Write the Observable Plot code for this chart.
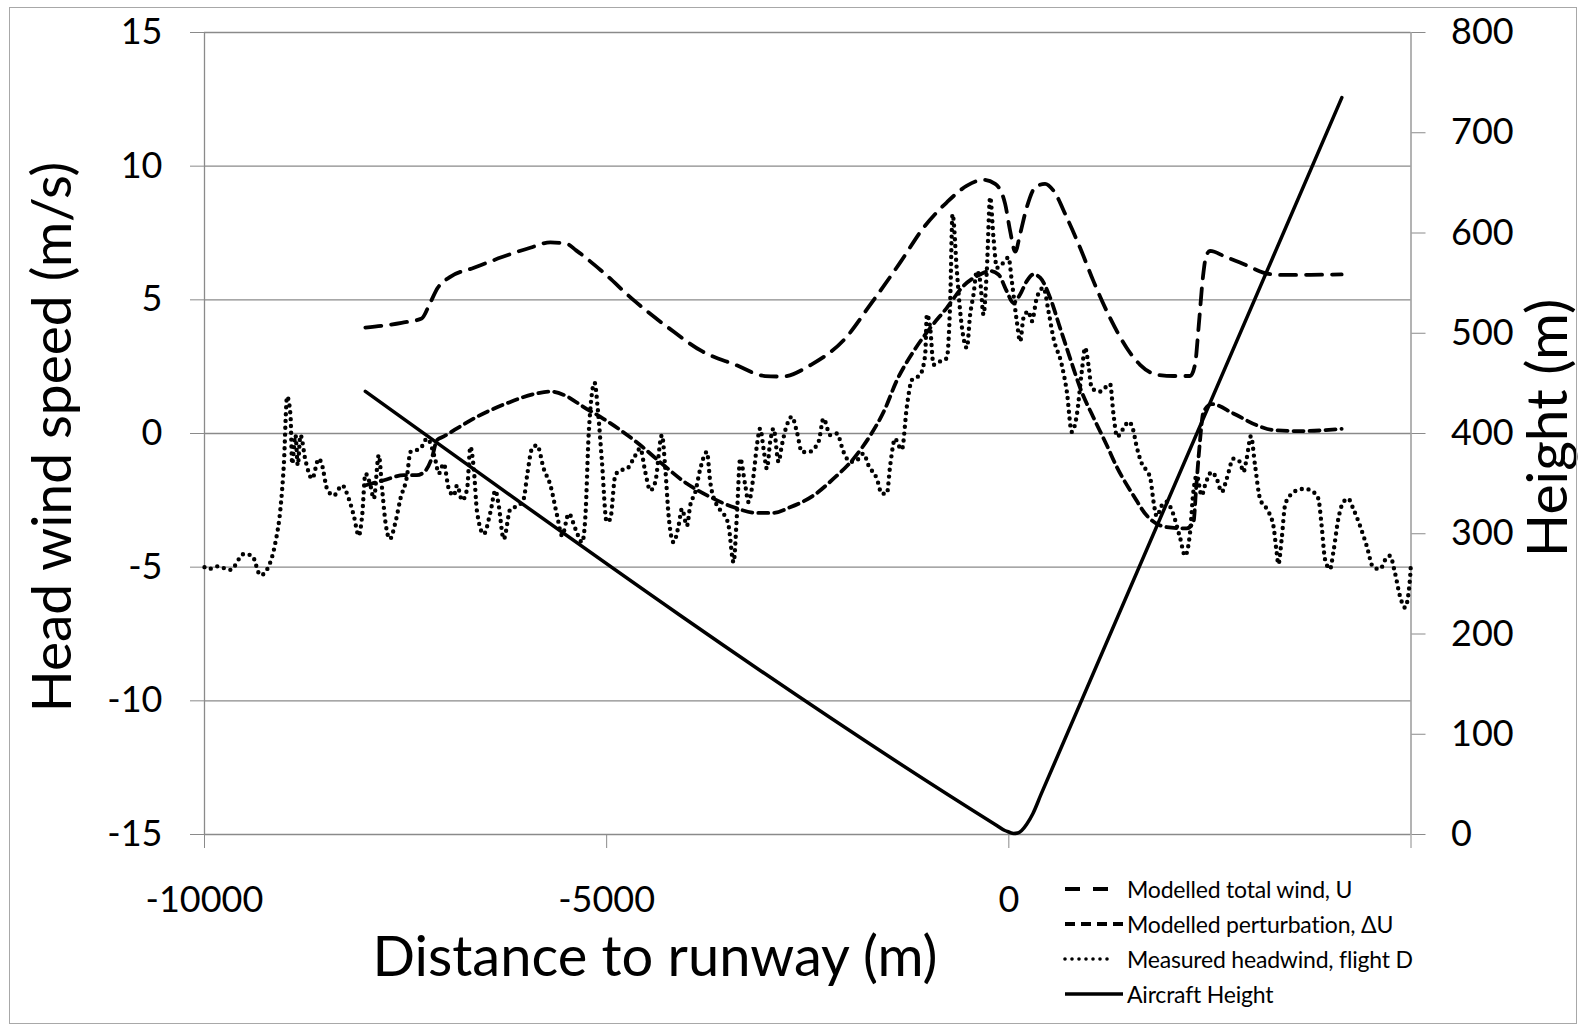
<!DOCTYPE html>
<html><head><meta charset="utf-8">
<script src="https://cdn.jsdelivr.net/npm/d3@7"></script>
<script src="https://cdn.jsdelivr.net/npm/@observablehq/plot@0.6"></script>
<style>
html,body{margin:0;padding:0;background:#fff;}
body{width:1580px;height:1026px;position:relative;overflow:hidden;font-family:Lato,sans-serif;color:#000;}
#frame{position:absolute;left:9px;top:7px;width:1568px;height:1017px;border:1.5px solid #a8a8a8;box-sizing:border-box;pointer-events:none;}
#chart{position:absolute;left:0;top:0;}
.title{position:absolute;font-size:56px;white-space:nowrap;line-height:0.8;}
#xt{left:655px;top:933px;transform:translateX(-50%);}
#ylt{left:50px;top:437px;font-size:55px;transform:translate(-50%,-50%) rotate(-90deg);}
#yrt{left:1546px;top:428px;font-size:57px;transform:translate(-50%,-50%) rotate(-90deg);}
#legend{position:absolute;left:1063px;top:871px;font-size:23px;letter-spacing:-0.2px;}
.row{height:35px;display:flex;align-items:center;}
.row svg{margin-right:2px;}
</style></head>
<body>
<div id="chart"></div>
<div class="title" id="xt">Distance to runway (m)</div>
<div class="title" id="ylt">Head wind speed (m/s)</div>
<div class="title" id="yrt">Height (m)</div>
<div id="legend"></div>
<div id="frame"></div>
<script>
// ---- data ----
const xTicks = [-10000, -5000, 0, 5000];
const windTicks = [-15, -10, -5, 0, 5, 10, 15];
const heightTicks = [0, 100, 200, 300, 400, 500, 600, 700, 800];

// Modelled total wind, U
const uDist = [-8000,-7550,-7300,-7200,-7100,-6950,-6650,-6300,-5950,-5700,-5500,-5380,-5070,-4650,-4230,-3810,-3400,-3030,-2820,-2460,-2030,-1720,-1350,-1060,-770,-520,-316,-170,-46,16,80,140,223,326,450,554,720,886,1052,1259,1466,1632,1839,2050,2254,2316,2360,2415,2450,2501,2700,2950,3163,3371,4138];
const uVal  = [3.96,4.14,4.3,4.85,5.45,5.85,6.2,6.6,6.95,7.15,7.1,6.85,6.1,4.95,3.95,3.07,2.57,2.15,2.13,2.57,3.57,4.83,6.4,7.7,8.65,9.27,9.49,9.34,8.59,7.58,6.8,7.46,8.46,9.2,9.34,9.09,8.08,6.95,5.7,4.32,3.2,2.57,2.2,2.15,2.15,2.6,4.0,5.9,6.6,6.83,6.6,6.3,6.02,5.93,5.95];

// Modelled perturbation, ΔU
const duDist = [-8000,-7770,-7520,-7360,-7250,-7170,-7110,-7030,-6860,-6610,-6240,-5870,-5700,-5530,-5290,-5040,-4830,-4580,-4290,-4000,-3710,-3420,-3130,-2930,-2720,-2430,-2180,-1930,-1720,-1550,-1390,-1185,-977,-771,-564,-357,-233,-130,-27,56,140,223,306,389,513,637,761,900,1052,1218,1342,1549,1715,1839,1963,2212,2295,2330,2370,2420,2522,2791,3082,3290,3621,4138];
const duVal  = [-1.94,-1.75,-1.56,-1.56,-1.38,-0.88,-0.25,-0.12,0.19,0.63,1.13,1.5,1.57,1.44,1.0,0.55,0.13,-0.44,-1.19,-1.88,-2.38,-2.76,-2.97,-2.97,-2.76,-2.32,-1.69,-0.94,-0.06,0.85,2.0,3.07,3.95,4.7,5.52,5.95,6.08,5.95,5.33,4.89,5.2,5.7,5.95,5.83,5.08,3.95,2.82,1.6,0.6,-0.44,-1.25,-2.32,-3.07,-3.38,-3.5,-3.55,-3.32,-2.0,-0.5,0.8,1.1,0.75,0.31,0.13,0.09,0.17];

// Measured headwind, flight D
const mDist = [-10000,-9946,-9843,-9677,-9511,-9408,-9304,-9200,-9118,-9056,-9014,-8973,-8931,-8910,-8869,-8840,-8807,-8745,-8662,-8579,-8538,-8476,-8393,-8289,-8206,-8144,-8082,-8040,-7999,-7937,-7895,-7833,-7792,-7750,-7696,-7626,-7564,-7481,-7440,-7316,-7233,-7129,-7088,-7026,-6963,-6901,-6860,-6797,-6735,-6694,-6652,-6611,-6528,-6445,-6383,-6342,-6280,-6197,-6093,-6031,-5989,-5927,-5865,-5782,-5699,-5616,-5554,-5471,-5388,-5305,-5264,-5222,-5150,-5110,-5060,-5000,-4955,-4893,-4830,-4748,-4665,-4582,-4520,-4458,-4396,-4313,-4271,-4230,-4168,-4106,-4064,-4002,-3961,-3898,-3836,-3754,-3712,-3629,-3546,-3484,-3422,-3381,-3340,-3277,-3236,-3174,-3132,-3091,-3050,-3008,-2967,-2925,-2863,-2822,-2760,-2697,-2635,-2573,-2490,-2366,-2304,-2221,-2138,-2055,-1972,-1889,-1807,-1745,-1641,-1579,-1517,-1475,-1413,-1372,-1330,-1268,-1206,-1102,-1040,-1019,-978,-936,-853,-771,-729,-700,-646,-605,-563,-522,-481,-439,-398,-356,-315,-274,-232,-191,-149,-87,-4,37,99,141,182,244,286,348,431,493,555,658,721,783,845,907,948,990,1031,1135,1259,1300,1346,1425,1490,1540,1590,1650,1715,1760,1800,1839,1900,1960,2030,2129,2191,2253,2294,2336,2398,2439,2522,2584,2647,2709,2792,2874,2916,2957,3010,3061,3123,3206,3289,3330,3351,3392,3434,3496,3578,3682,3786,3848,3889,3931,3993,4034,4096,4158,4220,4283,4366,4449,4531,4614,4697,4738,4800,4863,4925,4987,5000];
const mVal  = [-5.0,-5.07,-4.97,-5.1,-4.51,-4.57,-5.3,-4.95,-4.07,-2.82,-1.19,1.38,0.69,-1.13,-0.06,-1.19,-0.06,-1.0,-1.69,-0.94,-1.19,-2.07,-2.32,-1.94,-2.44,-3.07,-3.82,-3.07,-1.5,-1.94,-2.44,-0.81,-2.07,-3.32,-3.95,-3.32,-2.44,-1.57,-0.69,-0.56,-0.19,-1.0,-1.5,-1.13,-2.07,-2.32,-1.94,-2.5,-2.07,-0.5,-1.32,-2.94,-3.76,-2.94,-2.13,-2.69,-3.95,-2.82,-2.69,-2.44,-1.57,-0.56,-0.44,-1.32,-1.94,-3.07,-3.82,-3.0,-3.57,-4.07,-3.07,0.06,1.9,0.9,-1.0,-3.3,-3.2,-1.57,-1.38,-1.32,-0.94,-0.56,-1.44,-2.13,-1.82,-0.06,-1.32,-3.07,-4.07,-3.45,-2.82,-3.45,-2.69,-2.19,-1.32,-0.69,-1.82,-2.69,-3.0,-3.45,-4.82,-3.07,-0.94,-1.94,-2.57,-1.57,-0.44,0.19,-0.56,-1.32,-0.31,0.19,-1.06,-0.44,0.31,0.63,0.06,-0.69,-0.69,-0.31,0.56,-0.06,0.0,-0.69,-1.06,-1.0,-0.75,-1.19,-1.69,-2.25,-2.25,-1.19,-0.19,-0.44,-0.6,1.0,2.0,2.2,2.95,4.45,3.95,2.57,2.7,2.82,4.95,8.2,6.08,4.57,3.57,3.2,4.45,5.2,6.08,5.7,4.45,6.08,8.84,7.33,6.2,6.33,6.58,5.7,4.2,3.45,4.32,4.57,4.2,5.08,5.45,4.57,3.57,2.57,1.57,0.06,0.69,2.32,3.2,2.57,1.69,1.57,1.85,0.75,-0.12,0.19,0.44,0.2,-0.5,-1.1,-1.4,-1.69,-2.57,-3.1,-2.7,-2.55,-2.9,-3.9,-4.57,-3.7,-2.19,-1.57,-2.32,-1.94,-1.44,-1.69,-2.19,-1.69,-0.94,-1.06,-1.44,-0.94,-0.1,-1.19,-2.44,-2.82,-3.45,-4.45,-4.89,-3.95,-2.69,-2.32,-2.13,-2.07,-2.19,-2.44,-3.45,-4.7,-5.07,-4.45,-3.2,-2.57,-2.44,-2.82,-3.45,-4.2,-5.01,-5.07,-4.64,-4.57,-5.2,-6.08,-6.51,-5.45,-4.8];

// Aircraft height (m), right axis
const hDist = [-8000,-150,-50,0,60,110,160,220,300,400,4140];
const hVal  = [442,9,4,2.5,1,1.5,4,10,21,40,735];

// ---- build ----
const H_MAX = 800, W_MIN = -15, W_MAX = 15;
const toWind = h => W_MIN + h * (W_MAX - W_MIN) / H_MAX;
const toHeight = w => (w - W_MIN) * H_MAX / (W_MAX - W_MIN);
const zip = (xs, ys) => xs.map((x, i) => ({x, y: ys[i]}));
const uData = zip(uDist, uVal);
const duData = zip(duDist, duVal);
const mData = zip(mDist, mVal);
const hData = zip(hDist, hVal.map(toWind));

const gray = "#8a8a8a";
const styles = {
  u:  {stroke: "#000", strokeWidth: 3.8, strokeDasharray: "16 10"},
  du: {stroke: "#000", strokeWidth: 3.8, strokeDasharray: "10 6"},
  m:  {stroke: "#000", strokeWidth: 4.4, strokeDasharray: "0 6.8", strokeLinecap: "round"},
  h:  {stroke: "#000", strokeWidth: 3.5}
};

const chart = Plot.plot({
  width: 1580, height: 1026,
  marginLeft: 204, marginRight: 169.5, marginTop: 32, marginBottom: 192,
  style: {fontFamily: "Lato, sans-serif", background: "transparent", color: "#000"},
  x: {domain: [-10000, 5000]},
  y: {domain: [W_MIN, W_MAX]},
  marks: [
    Plot.gridY(windTicks, {stroke: gray, strokeOpacity: 1, strokeWidth: 1.3}),
    Plot.ruleX([-10000, 5000], {stroke: gray, strokeWidth: 1.3}),
    Plot.axisY(windTicks, {anchor: "left", tickSize: 14, tickPadding: 28, stroke: gray, fill: "#000", fontSize: 36, tickFormat: d => String(d), label: null}),
    Plot.axisY(heightTicks.map(toWind), {anchor: "right", tickSize: 14, tickPadding: 26, stroke: gray, fill: "#000", fontSize: 36, tickFormat: w => String(Math.round(toHeight(w))), label: null}),
    Plot.axisX(xTicks, {anchor: "bottom", tickSize: 14, tickPadding: 38, stroke: gray, fill: "#000", fontSize: 36, tickFormat: d => d === 5000 ? "" : String(d), label: null}),
    Plot.line(hData, {x: "x", y: "y", curve: "monotone-x", ...styles.h}),
    Plot.line(mData, {x: "x", y: "y", curve: "monotone-x", ...styles.m}),
    Plot.line(duData, {x: "x", y: "y", curve: "monotone-x", ...styles.du}),
    Plot.line(uData, {x: "x", y: "y", curve: "monotone-x", ...styles.u})
  ]
});
document.getElementById("chart").appendChild(chart);

// legend
const legendItems = [
  {label: "Modelled total wind, U", s: styles.u, dash: "15 13", x2: 45},
  {label: "Modelled perturbation, \u0394U", s: styles.du, dash: "10 6", x2: 60},
  {label: "Measured headwind, flight D", s: styles.m, dash: "0 7", x2: 50},
  {label: "Aircraft Height", s: styles.h, dash: null, x2: 60}
];
const lg = document.getElementById("legend");
for (const it of legendItems) {
  const row = document.createElement("div");
  row.className = "row";
  const dash = it.dash ? `stroke-dasharray="${it.dash}"` : "";
  const cap = it.s.strokeLinecap ? `stroke-linecap="${it.s.strokeLinecap}"` : "";
  const sw = it.dash === "0 7" ? 3.6 : it.s.strokeWidth;
  row.innerHTML = `<svg width="62" height="12"><line x1="2" y1="6" x2="${it.x2}" y2="6" stroke="#000" stroke-width="${sw}" ${dash} ${cap}/></svg><span>${it.label}</span>`;
  lg.appendChild(row);
}
</script>
</body></html>
